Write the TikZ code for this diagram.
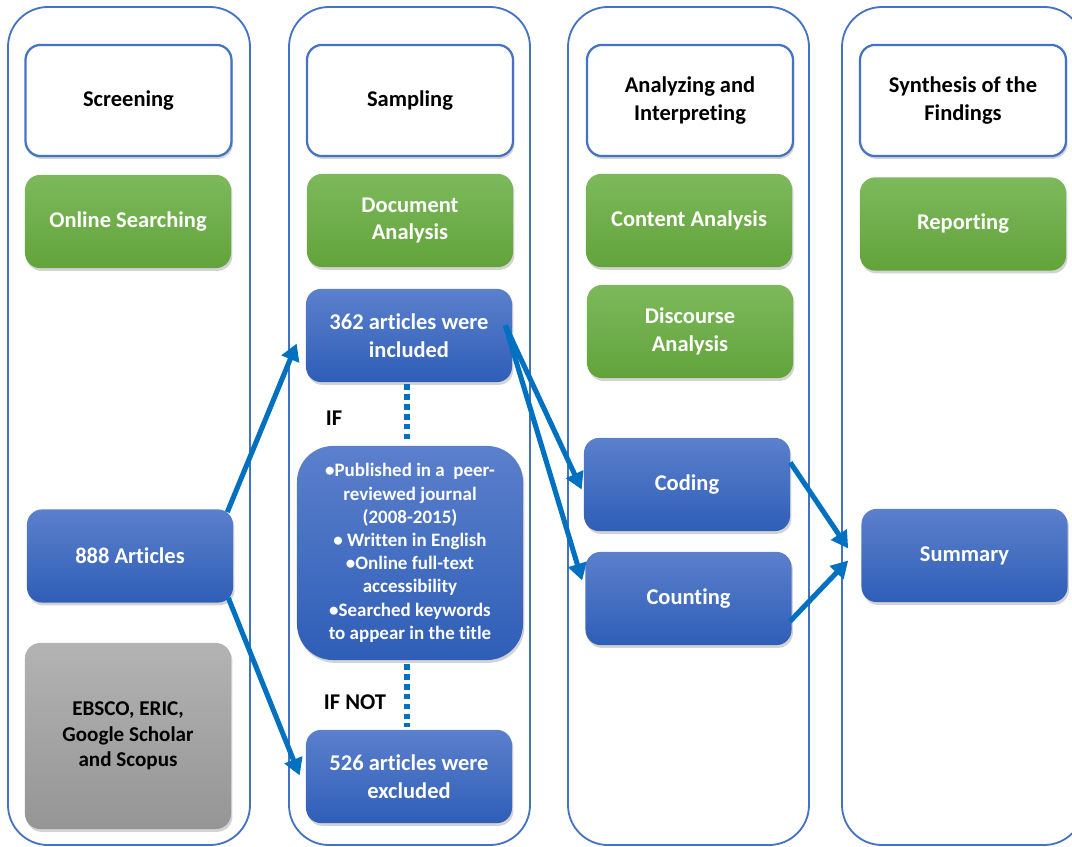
\documentclass[tikz,border=0pt]{standalone}
\usepackage{fontspec}
\setmainfont{Carlito}[Ligatures=NoCommon]
\usetikzlibrary{arrows.meta,shadows,calc}
\definecolor{frameblue}{HTML}{4472C4}
\definecolor{arrowblue}{HTML}{0070C0}
\definecolor{grtop}{HTML}{7DB95C}
\definecolor{grbot}{HTML}{62A33A}
\definecolor{bltop}{HTML}{5B80CC}
\definecolor{blbot}{HTML}{2F5EB7}
\definecolor{gytop}{HTML}{B3B3B3}
\definecolor{gybot}{HTML}{959595}
\begin{document}
\begin{tikzpicture}[x=0.025cm,y=-0.025cm,
	lane/.style={draw=frameblue,line width=1.3pt,rounded corners=1cm},
	box/.style={rounded corners=0.38cm,minimum width=5.15cm,minimum height=2.33cm,inner sep=2pt,align=center,
		font=\bfseries\fontsize{16}{19.5}\selectfont,
		drop shadow={opacity=0.35,shadow xshift=1pt,shadow yshift=-2pt}},
	headbox/.style={box,draw=frameblue,line width=1.6pt,fill=white,minimum height=2.78cm},
	greenbox/.style={box,text=white,top color=grtop,bottom color=grbot},
	bluebox/.style={box,text=white,top color=bltop,bottom color=blbot},
	greybox/.style={box,text=black,top color=gytop,bottom color=gybot,font=\bfseries\fontsize{15}{18}\selectfont},
	flow/.style={draw=arrowblue,line width=3.6pt,-{Triangle[length=12pt,width=13pt]}},
	dots/.style={draw=arrowblue,line width=3.6pt,dash pattern=on 4pt off 3pt},
	lbl/.style={font=\bfseries\fontsize{16}{19.5}\selectfont}]
	\useasboundingbox (0,0) rectangle (1072,847);
	\draw[lane] (8,7) rectangle (250,845);
	\draw[lane] (289,7) rectangle (530,845);
	\draw[lane] (568,7) rectangle (809,845);
	\draw[lane] (842,7) rectangle (1084,845);

	\node[headbox] (screen) at (128.5,100.5) {Screening};
	\node[headbox] (sampl) at (410,100.5) {Sampling};
	\node[headbox] (analyz) at (690,100.5) {Analyzing and\\Interpreting};
	\node[headbox] (synth) at (963,100.5) {Synthesis of the\\Findings};

	\node[greenbox] (online) at (128,221.5) {Online Searching};
	\node[greenbox] (docana) at (410,220.5) {Document\\Analysis};
	\node[greenbox] (contana) at (689,220.5) {Content Analysis};
	\node[greenbox] (report) at (963,224) {Reporting};
	\node[greenbox] (discana) at (690,331.5) {Discourse\\Analysis};

	\node[bluebox] (inc) at (409,335.5) {362 articles were\\included};
	\node[bluebox,minimum width=5.65cm,minimum height=5.35cm,rounded corners=0.9cm,
		font=\bfseries\fontsize{13.5}{16.5}\selectfont] (crit) at (410,553)
		{\textbullet Published in a\ \ peer-\\reviewed journal\\(2008-2015)\\\textbullet{} Written in English\\
		\textbullet Online full-text\\accessibility\\\textbullet Searched keywords\\to appear in the title};
	\node[bluebox] (exc) at (409,776.5) {526 articles were\\excluded};
	\node[bluebox] (art) at (130,556) {888 Articles};
	\node[bluebox] (cod) at (687,484.5) {Coding};
	\node[bluebox] (cnt) at (688.5,598.5) {Counting};
	\node[bluebox] (sum) at (964.5,555.5) {Summary};
	\node[greybox,minimum height=4.65cm] (dbase) at (128,736) {EBSCO, ERIC,\\Google Scholar\\and Scopus};

	\node[lbl] (iflbl) at (334,418) {IF};
	\node[lbl] (ifnot) at (355,702) {IF NOT};

	\draw[dots] ($(inc.south)+(-2,2)$) -- ($(crit.north)+(-3,-5)$);
	\draw[dots] ($(crit.south)+(-3,4)$) -- ($(exc.north)+(-2,-3)$);

	\draw[flow] ($(art.north east)+(-6,3)$) -- ($(inc.west)+(-9,8)$);
	\draw[flow] ($(art.south east)+(-5,-5)$) -- ($(exc.west)+(-6,-1)$);
	\draw[flow] ($(inc.east)+(-7,-10)$) -- ($(cod.west)+(-2,5)$);
	\draw[flow] ($(inc.east)+(-7,-10)$) -- ($(cnt.west)+(-3,-18)$);
	\draw[flow] ($(cod.east)+(0,-22)$) -- ($(sum.west)+(-13,-7)$);
	\draw[flow] ($(cnt.east)+(-2,23)$) -- ($(sum.west)+(-13,5)$);
\end{tikzpicture}
\end{document}
